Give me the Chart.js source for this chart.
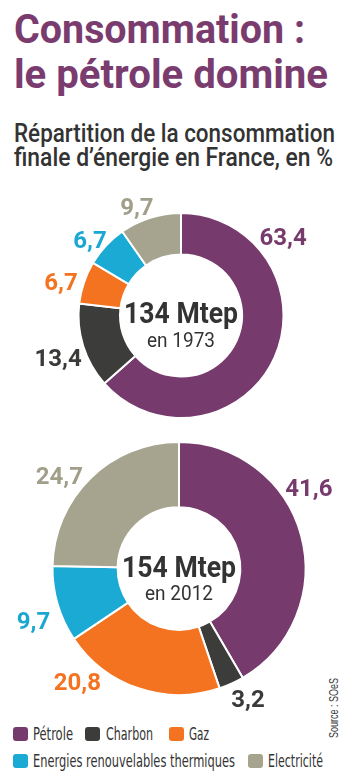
<!DOCTYPE html>
<html>
<head>
<meta charset="utf-8">
<script src="https://cdn.jsdelivr.net/npm/chart.js@4/dist/chart.umd.min.js"></script>
<style>
  html, body { margin:0; padding:0; background:#ffffff; width:350px; height:784px; overflow:hidden; }
  #page { position:relative; width:350px; height:784px; }
  svg#txt { position:absolute; left:0; top:0; }
  canvas { position:absolute; left:0; }
  #c1 { top:180px; }
  #c2 { top:420px; }
</style>
</head>
<body>
<div id="page">
  <svg id="txt" width="350" height="784" xmlns="http://www.w3.org/2000/svg"></svg>
  <canvas id="c1" width="350" height="271"></canvas>
  <canvas id="c2" width="350" height="297"></canvas>
</div>
<script>
// ---------- DATA ----------
const categories = ['Pétrole', 'Charbon', 'Gaz', 'Energies renouvelables thermiques', 'Electricité'];
const values1973 = [63.4, 13.4, 6.7, 6.7, 9.7];
const values2012 = [41.6, 3.2, 20.8, 9.7, 24.7];
const totalsMtep = [134, 154];
const years = ['1973', '2012'];
const titleLines = ['Consommation :', 'le pétrole domine'];
const subtitleLines = ['Répartition de la consommation', 'finale d’énergie en France, en %'];
const sourceText = 'Source : SOeS';

// ---------- STYLES ----------
const colors = ['#763a6d', '#3c3d3a', '#f47320', '#1aaad4', '#a6a48f'];
const labelColors = ['#763a6d', '#3a3b38', '#f47320', '#1aa8d2', '#a19f8a'];
const titleColor = '#7a3c6f';
const textColor = '#333333';

const SVGNS = 'http://www.w3.org/2000/svg';
const svg = document.getElementById('txt');
function svgText(str, x, y, opts) {
  const t = document.createElementNS(SVGNS, 'text');
  t.setAttribute('x', x); t.setAttribute('y', y);
  t.setAttribute('font-family', opts.family);
  t.setAttribute('font-size', opts.size);
  t.setAttribute('font-weight', opts.weight || 400);
  t.setAttribute('fill', opts.color);
  if (opts.len) { t.setAttribute('textLength', opts.len); t.setAttribute('lengthAdjust', 'spacingAndGlyphs'); }
  if (opts.transform) t.setAttribute('transform', opts.transform);
  t.textContent = str;
  svg.appendChild(t);
  return t;
}

// Title
const titleLayout = [{x:14, y:43, len:291}, {x:14, y:88, len:314}];
titleLines.forEach((s, i) => svgText(s, titleLayout[i].x, titleLayout[i].y,
  {family:'Roboto, sans-serif', size:40, weight:700, color:titleColor, len:titleLayout[i].len}));
// Subtitle
const subLayout = [{x:14, y:142, len:321}, {x:14, y:166, len:319}];
subtitleLines.forEach((s, i) => svgText(s, subLayout[i].x, subLayout[i].y,
  {family:'Roboto, sans-serif', size:26, weight:500, color:textColor, len:subLayout[i].len}));

// Legend
const legendLayout = [
  {sx:13, sy:727, tx:33, ty:740, len:40},
  {sx:85, sy:727, tx:106, ty:740, len:47},
  {sx:169, sy:727, tx:189, ty:740, len:20},
  {sx:13, sy:754, tx:33, ty:767, len:202},
  {sx:248, sy:754, tx:268, ty:767, len:55}
];
categories.forEach((c, i) => {
  const L = legendLayout[i];
  const r = document.createElementNS(SVGNS, 'rect');
  r.setAttribute('x', L.sx); r.setAttribute('y', L.sy);
  r.setAttribute('width', 15); r.setAttribute('height', 14);
  r.setAttribute('rx', 3); r.setAttribute('fill', colors[i]);
  svg.appendChild(r);
  svgText(c, L.tx, L.ty, {family:'"Liberation Sans Narrow", "DejaVu Sans Condensed", sans-serif', size:17, color:textColor, len:L.len});
});

// Source
svgText(sourceText, 0, 0, {family:'"Liberation Sans Narrow", sans-serif', size:12, color:'#3a3a3a', len:60,
  transform:'translate(338,738) rotate(-90)'});

// ---------- Chart plugin for outside labels and center text ----------
const fmt = v => v.toFixed(1).replace('.', ',');
const outLabels = {
  id: 'outLabels',
  afterDatasetsDraw(chart, args, opts) {
    const ctx = chart.ctx;
    const meta = chart.getDatasetMeta(0);
    const data = chart.data.datasets[0].data;
    ctx.save();
    ctx.textAlign = 'center';
    ctx.textBaseline = 'alphabetic';
    ctx.font = '700 24px Roboto, sans-serif';
    let cx = 0, cy = 0;
    meta.data.forEach((arc, i) => {
      const p = arc.getProps(['x', 'y', 'outerRadius'], true);
      cx = p.x; cy = p.y;
      const a = opts.angles[i] * Math.PI / 180;
      const r = opts.radius * opts.dist[i];
      const lx = p.x + r * Math.sin(a);
      const ly = p.y - r * Math.cos(a);
      ctx.fillStyle = labelColors[i];
      ctx.fillText(fmt(data[i]), lx, ly + 8.5);
    });
    ctx.fillStyle = '#333333';
    ctx.font = '700 29px Roboto, sans-serif';
    ctx.fillText(opts.total + ' Mtep', cx, cy + opts.line1, 114);
    ctx.font = '400 21px Roboto, sans-serif';
    ctx.fillText('en ' + opts.year, cx, cy + opts.line2, 68);
    ctx.restore();
  }
};

function makeChart(id, values, radius, cutout, padLeft, labelOpts) {
  return new Chart(document.getElementById(id), {
    type: 'doughnut',
    data: {
      labels: categories,
      datasets: [{
        data: values,
        backgroundColor: colors,
        borderColor: '#ffffff',
        borderWidth: 2,
        hoverOffset: 0
      }]
    },
    options: {
      responsive: false,
      animation: false,
      devicePixelRatio: 1,
      radius: radius,
      cutout: cutout,
      rotation: 0,
      layout: { padding: { left: padLeft } },
      plugins: {
        legend: { display: false },
        tooltip: { enabled: false },
        outLabels: labelOpts
      }
    },
    plugins: [outLabels]
  });
}

makeChart('c1', values1973, 102.5, '59.5%', 12, {
  radius: 101.5,
  angles: [52.4, 251, 286, 310, 338],
  dist: [1.27, 1.28, 1.23, 1.17, 1.16],
  total: totalsMtep[0], year: years[0], line1: 7.5, line2: 31.5
});
makeChart('c2', values2012, 126.5, '48.5%', 8, {
  radius: 125.5,
  angles: [58, 152, 222, 250.5, 308],
  dist: [1.22, 1.17, 1.21, 1.23, 1.21],
  total: totalsMtep[1], year: years[1], line1: 8.5, line2: 31.5
});
</script>
</body>
</html>
